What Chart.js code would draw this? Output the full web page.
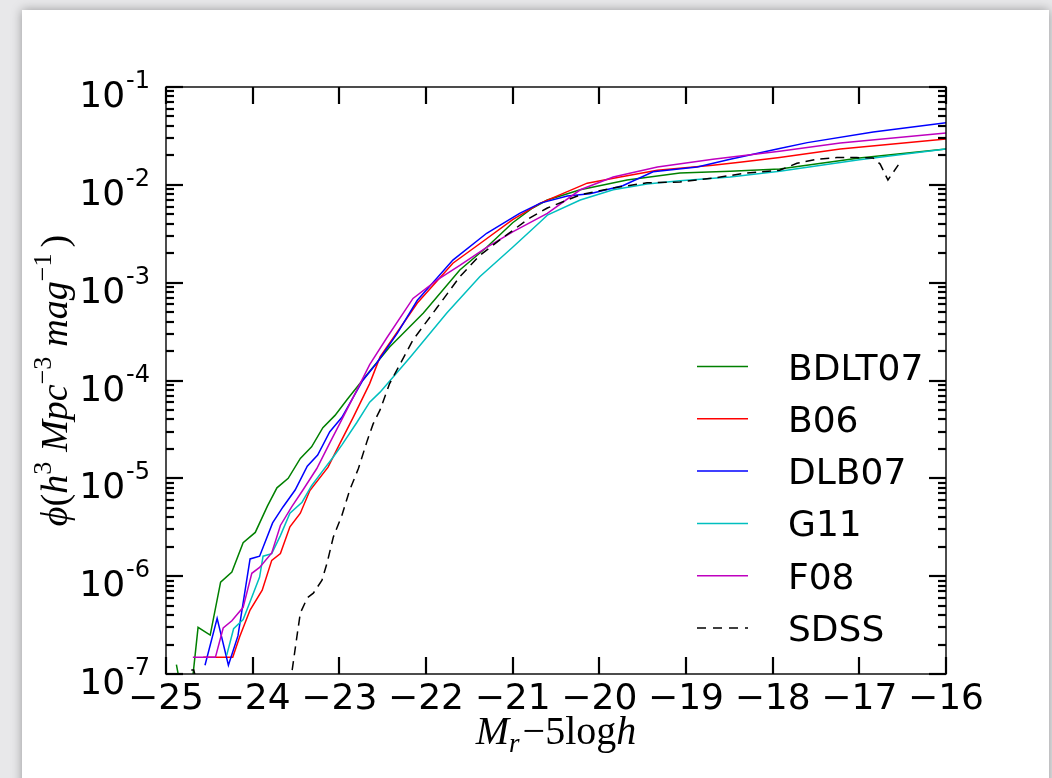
<!DOCTYPE html>
<html>
<head>
<meta charset="utf-8">
<script src="https://cdn.jsdelivr.net/npm/chart.js@4.4.0/dist/chart.umd.min.js"></script>
<style>
  html, body { margin: 0; padding: 0; background: #e8e8ea; overflow: hidden; }
  #card { position: absolute; left: 22px; top: 10px; width: 1027px; height: 800px; background: #fff;
          box-shadow: 0 0 10px rgba(0,0,0,0.35); }
  #lf { position: absolute; left: 0; top: 0; }
</style>
</head>
<body>
<div id="card"></div>
<canvas id="lf" width="1052" height="778"></canvas>
<script>
// absolute magnitude bins and phi values, one pair per model
const bdltMag = [-24.88, -24.75, -24.63, -24.49, -24.37, -24.24, -24.11, -23.97, -23.83, -23.72, -23.59, -23.45, -23.32, -23.19, -23.05, -22.91, -22.68, -22.42, -22.03, -21.61, -21.30, -21.00, -20.77, -20.60, -20.22, -19.68, -19.07, -18.49, -17.92, -17.00, -16.00];
const bdltPhi = [1.25e-7, 3e-8, 3.0e-7, 2.5e-7, 8.7e-7, 1.1e-6, 2.2e-6, 2.8e-6, 5.2e-6, 8.0e-6, 1.0e-5, 1.6e-5, 2.1e-5, 3.3e-5, 4.4e-5, 6.4e-5, 1.15e-4, 2.2e-4, 4.9e-4, 1.35e-3, 2.3e-3, 4.1e-3, 5.8e-3, 7.0e-3, 8.9e-3, 1.12e-2, 1.32e-2, 1.38e-2, 1.45e-2, 1.88e-2, 2.32e-2];

const b06Mag = [-24.57, -24.23, -24.15, -24.03, -23.89, -23.78, -23.68, -23.57, -23.45, -23.34, -23.13, -22.99, -22.84, -22.65, -22.53, -22.10, -21.69, -21.38, -21.00, -20.68, -20.14, -19.76, -19.33, -18.69, -18.38, -17.92, -17.22, -16.00];
const b06Phi = [1.48e-7, 1.48e-7, 2.4e-7, 4.5e-7, 7.2e-7, 1.45e-6, 1.7e-6, 3.2e-6, 4.4e-6, 7.5e-6, 1.3e-5, 2.3e-5, 4.2e-5, 9.3e-5, 1.74e-4, 6.2e-4, 1.58e-3, 2.5e-3, 4.4e-3, 6.5e-3, 1.04e-2, 1.2e-2, 1.41e-2, 1.59e-2, 1.7e-2, 1.9e-2, 2.32e-2, 2.94e-2];

const dlbMag = [-24.55, -24.41, -24.28, -24.17, -24.03, -23.92, -23.77, -23.65, -23.51, -23.37, -23.25, -23.11, -22.97, -22.73, -22.57, -22.33, -22.10, -21.87, -21.69, -21.30, -20.92, -20.68, -20.37, -20.11, -19.73, -19.38, -18.87, -18.49, -17.92, -17.60, -16.84, -16.00];
const dlbPhi = [1.23e-7, 3.7e-7, 1.23e-7, 2.45e-7, 1.5e-6, 1.6e-6, 3.5e-6, 5.1e-6, 7.6e-6, 1.33e-5, 1.73e-5, 3.0e-5, 4.2e-5, 1.0e-4, 1.5e-4, 3.05e-4, 6.6e-4, 1.12e-3, 1.7e-3, 3.2e-3, 5.1e-3, 6.5e-3, 7.7e-3, 8.1e-3, 9.8e-3, 1.36e-2, 1.52e-2, 1.83e-2, 2.35e-2, 2.7e-2, 3.47e-2, 4.3e-2];

const g11Mag = [-24.30, -24.22, -24.11, -24.01, -23.92, -23.88, -23.78, -23.68, -23.57, -23.43, -23.32, -23.19, -23.07, -22.97, -22.80, -22.65, -22.53, -22.18, -21.76, -21.38, -21.00, -20.68, -20.60, -20.22, -19.84, -19.45, -19.07, -18.49, -17.92, -17.00, -16.00];
const g11Phi = [1.55e-7, 2.9e-7, 3.6e-7, 6.1e-7, 9.8e-7, 1.6e-6, 1.7e-6, 2.6e-6, 4.4e-6, 5.7e-6, 8.4e-6, 1.2e-5, 1.65e-5, 2.2e-5, 3.7e-5, 6.0e-5, 7.6e-5, 1.74e-4, 4.9e-4, 1.15e-3, 2.3e-3, 4.2e-3, 4.9e-3, 7.0e-3, 8.9e-3, 1.02e-2, 1.10e-2, 1.2e-2, 1.38e-2, 1.8e-2, 2.32e-2];

const f08Mag = [-24.69, -24.43, -24.34, -24.24, -24.11, -24.01, -23.92, -23.78, -23.68, -23.55, -23.42, -23.26, -23.11, -22.97, -22.76, -22.65, -22.45, -22.15, -21.87, -21.61, -21.30, -21.00, -20.60, -20.22, -19.84, -19.33, -18.69, -17.92, -17.22, -16.00];
const f08Phi = [1.48e-7, 1.48e-7, 2.95e-7, 3.5e-7, 4.8e-7, 1.07e-6, 1.23e-6, 1.73e-6, 3.3e-6, 5.1e-6, 7.6e-6, 1.26e-5, 2.3e-5, 4.0e-5, 9.3e-5, 1.45e-4, 2.75e-4, 6.9e-4, 1.07e-3, 1.5e-3, 2.3e-3, 3.3e-3, 5.1e-3, 8.9e-3, 1.2e-2, 1.52e-2, 1.83e-2, 2.2e-2, 2.68e-2, 3.39e-2];

const sdssMag = [-24.76, -24.72, -24.68, -24.64, -23.56, -23.49, -23.45, -23.37, -23.30, -23.20, -23.14, -23.07, -22.97, -22.88, -22.78, -22.68, -22.61, -22.53, -22.42, -22.15, -21.87, -21.61, -21.38, -21.11, -20.80, -20.60, -20.22, -19.84, -19.45, -19.07, -18.69, -18.30, -17.92, -17.72, -17.49, -17.26, -17.03, -16.84, -16.76, -16.67, -16.55];
const sdssPhi = [8e-8, 1.1e-7, 1.1e-7, 8e-8, 8.7e-8, 2.4e-7, 4.2e-7, 6.0e-7, 6.7e-7, 9.1e-7, 1.38e-6, 2.5e-6, 4.2e-6, 7.6e-6, 1.26e-5, 2.4e-5, 3.6e-5, 5.0e-5, 9.3e-5, 2.6e-4, 5.6e-4, 1.15e-3, 1.9e-3, 2.9e-3, 4.6e-3, 5.8e-3, 7.9e-3, 9.3e-3, 1.05e-2, 1.07e-2, 1.17e-2, 1.32e-2, 1.41e-2, 1.66e-2, 1.83e-2, 1.9e-2, 1.9e-2, 1.88e-2, 1.63e-2, 1.12e-2, 1.6e-2];

const seriesNames = ['BDLT07', 'B06', 'DLB07', 'G11', 'F08', 'SDSS'];
const seriesColors = ['#008000', '#ff0000', '#0000ff', '#00bfbf', '#bf00bf', '#000000'];

const xTicks = [-25, -24, -23, -22, -21, -20, -19, -18, -17, -16];
const yExps = [-7, -6, -5, -4, -3, -2, -1];

const DASH = [9, 6];

function pts(mag, phi) {
  return mag.map((m, i) => ({ x: m, y: phi[i] }));
}

const allMag = [bdltMag, b06Mag, dlbMag, g11Mag, f08Mag, sdssMag];
const allPhi = [bdltPhi, b06Phi, dlbPhi, g11Phi, f08Phi, sdssPhi];

const datasets = seriesNames.map((name, i) => ({
  label: name,
  data: pts(allMag[i], allPhi[i]),
  borderColor: seriesColors[i],
  borderWidth: 1.5,
  borderDash: name === 'SDSS' ? DASH : [],
  pointRadius: 0,
  tension: 0,
  fill: false,
  order: seriesNames.length - i   // later series drawn on top, like matplotlib
}));

// text made of several runs (font / vertical shift)
function runsWidth(ctx, runs) {
  let w = 0;
  runs.forEach(r => { ctx.font = r.f; w += ctx.measureText(r.t).width + (r.gap || 0); });
  return w;
}
function drawRuns(ctx, runs, x, y) {
  let cx = x;
  runs.forEach(r => {
    ctx.font = r.f;
    ctx.fillText(r.t, cx, y + (r.dy || 0));
    cx += ctx.measureText(r.t).width + (r.gap || 0);
  });
}

const SERIF = '"Liberation Serif", "DejaVu Serif", serif';
const SANS = '"DejaVu Sans", sans-serif';

const decor = {
  id: 'decor',
  afterDraw(chart) {
    const { ctx, chartArea: a, scales: { x, y } } = chart;
    ctx.save();
    ctx.strokeStyle = '#000';
    ctx.fillStyle = '#000';
    ctx.lineCap = 'butt';

    const seg = (x1, y1, x2, y2) => { ctx.beginPath(); ctx.moveTo(x1, y1); ctx.lineTo(x2, y2); ctx.stroke(); };

    // ticks (inside, on all four sides)
    ctx.lineWidth = 2.2;
    xTicks.forEach(v => {
      const px = Math.round(x.getPixelForValue(v));
      seg(px, a.bottom, px, a.bottom - 17);
      seg(px, a.top, px, a.top + 17);
    });
    yExps.forEach(e => {
      const py = Math.round(y.getPixelForValue(Math.pow(10, e)));
      seg(a.left, py, a.left + 17, py);
      seg(a.right, py, a.right - 17, py);
      if (e < -1) {
        for (let m = 2; m <= 9; m++) {
          const pm = Math.round(y.getPixelForValue(m * Math.pow(10, e)));
          seg(a.left, pm, a.left + 8, pm);
          seg(a.right, pm, a.right - 8, pm);
        }
      }
    });

    // frame
    ctx.lineWidth = 1.4;
    ctx.strokeRect(a.left, a.top, a.right - a.left, a.bottom - a.top);

    // x tick labels
    ctx.textAlign = 'center';
    ctx.textBaseline = 'alphabetic';
    ctx.font = '36px ' + SANS;
    xTicks.forEach(v => {
      const px = x.getPixelForValue(v);
      ctx.fillText('\u2212' + Math.abs(v), px, a.bottom + 35);
    });

    // y tick labels 10^e
    ctx.textAlign = 'left';
    yExps.forEach(e => {
      const py = y.getPixelForValue(Math.pow(10, e));
      ctx.font = '24px ' + SANS;
      const sup = '-' + Math.abs(e);
      const ws = ctx.measureText(sup).width;
      ctx.font = '36px ' + SANS;
      const wb = ctx.measureText('10').width;
      const right = a.left - 16;
      ctx.fillText('10', right - ws - wb - 1, py + 20);
      ctx.font = '24px ' + SANS;
      ctx.fillText(sup, right - ws, py + 1);
    });

    // x axis title: M_r -5log h
    const xRuns = [
      { t: 'M', f: 'italic 40px ' + SERIF },
      { t: 'r', f: 'italic 27px ' + SERIF, dy: 8, gap: 3 },
      { t: '\u2212', f: '40px ' + SERIF },
      { t: '5log', f: '40px ' + SERIF },
      { t: 'h', f: 'italic 40px ' + SERIF }
    ];
    const xw = runsWidth(ctx, xRuns);
    drawRuns(ctx, xRuns, (a.left + a.right) / 2 - xw / 2, a.bottom + 70);

    // y axis title
    const yRuns = [
      { t: '\u03d5', f: 'italic 38px ' + SERIF },
      { t: '(', f: '38px ' + SERIF },
      { t: 'h', f: 'italic 38px ' + SERIF },
      { t: '3', f: '26px ' + SERIF, dy: -16, gap: 10 },
      { t: 'Mpc', f: 'italic 38px ' + SERIF },
      { t: '\u22123', f: '26px ' + SERIF, dy: -16, gap: 10 },
      { t: 'mag', f: 'italic 38px ' + SERIF },
      { t: '\u22121', f: '26px ' + SERIF, dy: -16, gap: 6 },
      { t: ')', f: '38px ' + SERIF }
    ];
    const yw = runsWidth(ctx, yRuns);
    ctx.save();
    ctx.translate(a.left - 99, (a.top + a.bottom) / 2 + 0);
    ctx.rotate(-Math.PI / 2);
    drawRuns(ctx, yRuns, -yw / 2, 0);
    ctx.restore();

    // legend, lower right inside the axes
    const lx0 = a.right - 249, lx1 = a.right - 198, tx = a.right - 158;
    const step = 52.3;
    const ly0 = a.bottom - 46 - step * (seriesNames.length - 1);
    ctx.font = '36px ' + SANS;
    seriesNames.forEach((name, i) => {
      const ly = ly0 + i * step;
      ctx.strokeStyle = seriesColors[i];
      ctx.lineWidth = 1.5;
      ctx.setLineDash(name === 'SDSS' ? [9, 7] : []);
      seg(lx0, ly, lx1, ly);
      ctx.setLineDash([]);
      ctx.fillStyle = '#000';
      ctx.fillText(name, tx, ly + 13);
    });

    ctx.restore();
  }
};

new Chart(document.getElementById('lf'), {
  type: 'line',
  data: { datasets: datasets },
  options: {
    responsive: false,
    animation: false,
    layout: { padding: { left: 166, top: 87, right: 106, bottom: 104 } },
    plugins: { legend: { display: false }, tooltip: { enabled: false } },
    scales: {
      x: { type: 'linear', min: -25, max: -16, display: false },
      y: { type: 'logarithmic', min: 1e-7, max: 1e-1, display: false }
    }
  },
  plugins: [decor]
});
</script>
</body>
</html>
